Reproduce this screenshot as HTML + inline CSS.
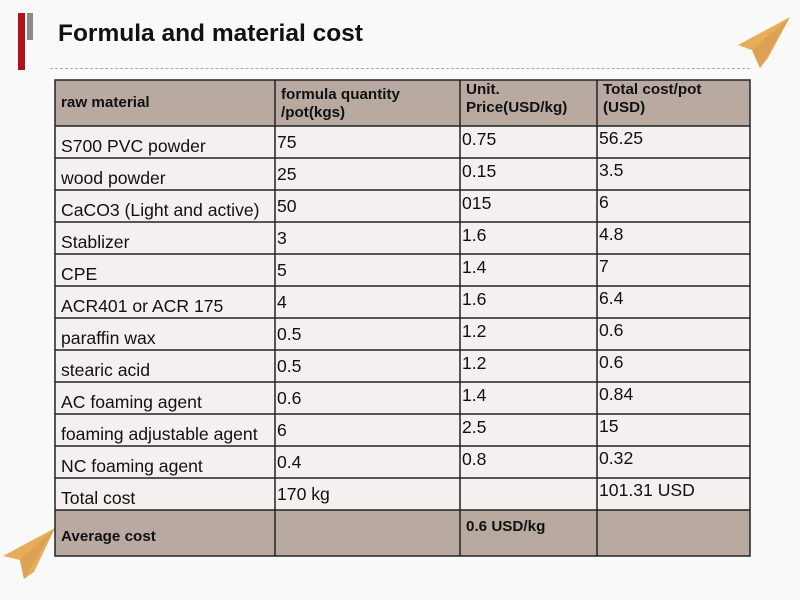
<!DOCTYPE html>
<html><head><style>
body{margin:0;width:800px;height:600px;background:#f9f9f9;position:relative;overflow:hidden;font-family:"Liberation Sans",sans-serif}
.a{position:absolute}
.t{position:absolute;font-size:17.6px;color:#111;white-space:nowrap;line-height:18px}
.h{font-weight:bold;font-size:15.2px;line-height:18px}
</style></head><body>
<div class="a" style="left:18px;top:13px;width:7px;height:57px;background:#b0111a"></div>
<div class="a" style="left:27px;top:13px;width:6px;height:27px;background:#8a8a8a"></div>
<div class="a" style="left:58px;top:20px;font-size:24.5px;font-weight:bold;color:#111">Formula and material cost</div>
<div class="a" style="left:50px;top:68px;width:700px;border-top:1px dashed #aaa"></div>
<svg class="a" style="left:0;top:0" width="800" height="600">
<polygon points="790,17 738,45 752,50 760,68 768,58 " fill="#e6ae5c"/>
<polygon points="790,17 752,50 760,68" fill="#dca153"/>
<polygon points="55,528 3,556 20,560 24,579 34,572" fill="#e6ae5c"/>
<polygon points="55,528 20,560 24,579" fill="#dca153"/>
</svg>
<div class="a" style="left:55px;top:80px;width:695px;height:46px;background:#b9aaa1"></div>
<div class="a" style="left:55px;top:126px;width:695px;height:384px;background:#f3f0ef"></div>
<div class="a" style="left:55px;top:510px;width:695px;height:46px;background:#b9aaa1"></div>
<svg class="a" style="left:0;top:0" width="800" height="600">
<g stroke="#222" stroke-width="1.5" fill="none">
<rect x="55" y="80" width="695" height="476"/>
<line x1="275" y1="80" x2="275" y2="556"/><line x1="460" y1="80" x2="460" y2="556"/><line x1="597" y1="80" x2="597" y2="556"/>
<line x1="55" y1="126" x2="750" y2="126"/><line x1="55" y1="158" x2="750" y2="158"/><line x1="55" y1="190" x2="750" y2="190"/><line x1="55" y1="222" x2="750" y2="222"/><line x1="55" y1="254" x2="750" y2="254"/><line x1="55" y1="286" x2="750" y2="286"/><line x1="55" y1="318" x2="750" y2="318"/><line x1="55" y1="350" x2="750" y2="350"/><line x1="55" y1="382" x2="750" y2="382"/><line x1="55" y1="414" x2="750" y2="414"/><line x1="55" y1="446" x2="750" y2="446"/><line x1="55" y1="478" x2="750" y2="478"/><line x1="55" y1="510" x2="750" y2="510"/>
</g></svg>
<div class="t h" style="left:61px;top:94px">raw material</div>
<div class="t h" style="left:281px;top:86px">formula quantity<br>/pot(kgs)</div>
<div class="t h" style="left:466px;top:81px">Unit.<br>Price(USD/kg)</div>
<div class="t h" style="left:603px;top:81px">Total cost/pot<br>(USD)</div>
<div class="t h" style="left:61px;top:528px">Average cost</div>
<div class="t h" style="left:466px;top:518px">0.6 USD/kg</div>
<div id="rows"></div>
<script>
var d=[["S700 PVC powder","75","0.75","56.25"],["wood powder","25","0.15","3.5"],["CaCO3 (Light and active)","50","015","6"],["Stablizer","3","1.6","4.8"],["CPE","5","1.4","7"],["ACR401 or ACR 175","4","1.6","6.4"],["paraffin wax","0.5","1.2","0.6"],["stearic acid","0.5","1.2","0.6"],["AC foaming agent","0.6","1.4","0.84"],["foaming adjustable agent","6","2.5","15"],["NC foaming agent","0.4","0.8","0.32"],["Total cost","170 kg","","101.31 USD"]];
var h="";d.forEach(function(r,i){var y=126+32*i;
h+='<div class="t" style="left:61px;top:'+(y+11)+'px">'+r[0]+'</div>';
h+='<div class="t" style="left:277px;top:'+(y+7)+'px">'+r[1]+'</div>';
h+='<div class="t" style="left:462px;top:'+(y+4)+'px">'+r[2]+'</div>';
h+='<div class="t" style="left:599px;top:'+(y+3)+'px">'+r[3]+'</div>';});
document.getElementById("rows").innerHTML=h;
</script>
</body></html>
